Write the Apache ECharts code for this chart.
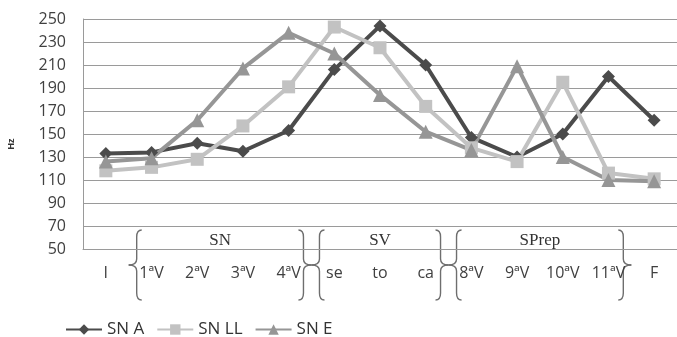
<!DOCTYPE html>
<html>
<head>
<meta charset="utf-8">
<script src="https://cdn.jsdelivr.net/npm/echarts@6/dist/echarts.min.js"></script>
<style>
  html, body { margin: 0; padding: 0; background: #fff; }
  #chart { width: 677px; height: 337px; }
</style>
</head>
<body>
<div id="chart"></div>
<script>
// Syllable / word positions along the utterance
const categories = ['I', '1ªV', '2ªV', '3ªV', '4ªV', 'se', 'to', 'ca', '8ªV', '9ªV', '10ªV', '11ªV', 'F'];

// F0 values (Hz) per position
const snA  = [133, 134, 142, 135, 153, 206, 244, 210, 147, 130, 150, 200, 162];
const snLL = [118, 121, 128, 157, 191, 243, 225, 174, 138, 126, 195, 116, 111];
const snE  = [126, 129, 162, 207, 238, 220, 184, 152, 136, 209, 130, 110, 109];

const seriesNames = ['SN A', 'SN LL', 'SN E'];

// Constituent groups: label, first and last category index covered
const groupNames = ['SN', 'SV', 'SPrep'];
const groupStart = [1, 5, 8];
const groupEnd   = [4, 7, 11];

const yTicks = { min: 50, max: 250, step: 20 };

const FONT = 'Open Sans';
const chart = echarts.init(document.getElementById('chart'), null, { renderer: 'canvas' });

const option = {
  animation: false,
  backgroundColor: '#ffffff',
  grid: { left: 83, right: -9, top: 19, bottom: 88 },
  xAxis: {
    type: 'category',
    data: categories,
    boundaryGap: true,
    axisLine: { show: true, lineStyle: { color: '#9a9a9a', width: 1 } },
    axisTick: { show: false },
    axisLabel: { color: '#404040', fontFamily: FONT, fontSize: 16, margin: 16 }
  },
  yAxis: {
    type: 'value',
    min: yTicks.min,
    max: yTicks.max,
    interval: yTicks.step,
    axisLine: { show: true, lineStyle: { color: '#9a9a9a', width: 1 } },
    axisTick: { show: false },
    splitLine: { show: true, lineStyle: { color: '#9a9a9a', width: 1 } },
    axisLabel: { color: '#404040', fontFamily: FONT, fontSize: 16, margin: 17 }
  },
  legend: {
    left: 60,
    top: 316,
    itemWidth: 36,
    itemHeight: 13,
    itemGap: 12,
    textStyle: { color: '#333333', fontFamily: FONT, fontSize: 17 },
    data: seriesNames
  },
  series: [
    {
      name: seriesNames[0], type: 'line', data: snA,
      symbol: 'diamond', symbolSize: 13,
      lineStyle: { color: '#4b4b4b', width: 4 },
      itemStyle: { color: '#4b4b4b' }
    },
    {
      name: seriesNames[1], type: 'line', data: snLL,
      symbol: 'rect', symbolSize: 13,
      lineStyle: { color: '#c2c2c2', width: 4 },
      itemStyle: { color: '#c2c2c2' }
    },
    {
      name: seriesNames[2], type: 'line', data: snE,
      symbol: 'triangle', symbolSize: 14,
      lineStyle: { color: '#969696', width: 4 },
      itemStyle: { color: '#969696' }
    }
  ]
};
chart.setOption(option);

const braceStyle = { stroke: '#6e6e6e', lineWidth: 1.4, fill: null };

// Curly brace built from curves and lines; dir = 1 gives "{", -1 gives "}"
function braceParts(tipX, top, bottom, dir) {
  const bx = tipX + dir * 8;
  const ex = bx + dir * 5;
  const mid = (top + bottom) / 2;
  const curve = (x1, y1, cx, cy, x2, y2) => ({
    type: 'bezierCurve', silent: true,
    shape: { x1: x1, y1: y1, cpx1: cx, cpy1: cy, x2: x2, y2: y2 },
    style: braceStyle
  });
  const line = (x1, y1, x2, y2) => ({
    type: 'line', silent: true,
    shape: { x1: x1, y1: y1, x2: x2, y2: y2 },
    style: braceStyle
  });
  return [
    curve(ex, top, bx, top, bx, top + 7),
    line(bx, top + 7, bx, mid - 6),
    curve(bx, mid - 6, bx, mid, tipX, mid),
    curve(tipX, mid, bx, mid, bx, mid + 6),
    line(bx, mid + 6, bx, bottom - 7),
    curve(bx, bottom - 7, bx, bottom, ex, bottom)
  ];
}

function drawAnnotations() {
  const px = i => chart.convertToPixel({ xAxisIndex: 0 }, i);
  const braceTop = 230, braceBottom = 300;
  let elements = [];
  groupNames.forEach((name, g) => {
    const a = px(groupStart[g]);
    const b = px(groupEnd[g]);
    const leftTip = (px(groupStart[g] - 1) + a) / 2;
    const rightTip = (b + px(groupEnd[g] + 1)) / 2;
    elements = elements.concat(braceParts(leftTip, braceTop, braceBottom, 1));
    elements = elements.concat(braceParts(rightTip, braceTop, braceBottom, -1));
    elements.push({
      type: 'text', silent: true,
      x: (a + b) / 2, y: 241,
      style: {
        text: name, align: 'center', verticalAlign: 'middle',
        fontFamily: 'Liberation Serif', fontSize: 17, fill: '#333333'
      }
    });
  });
  elements.push({
    type: 'text', silent: true,
    x: 12, y: 144, rotation: Math.PI / 2,
    style: {
      text: 'Hz', align: 'center', verticalAlign: 'middle',
      fontFamily: 'Liberation Sans', fontSize: 9, fontWeight: 'bold', fill: '#333333'
    }
  });
  chart.setOption({ graphic: { elements: elements } });
}
drawAnnotations();
</script>
</body>
</html>
